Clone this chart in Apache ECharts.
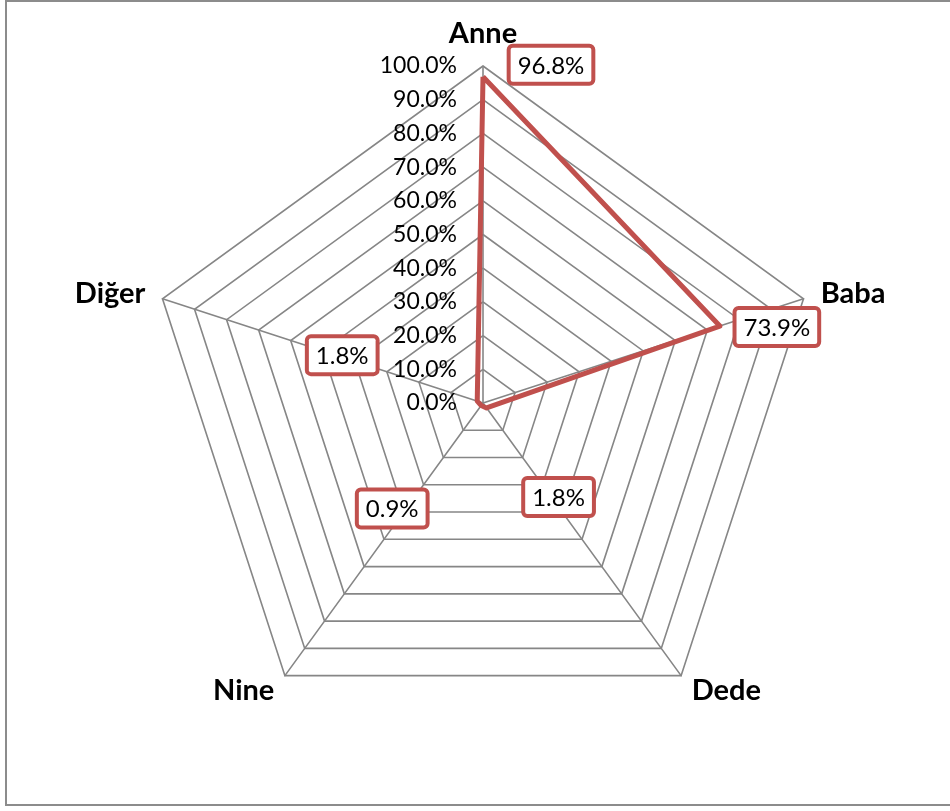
<!DOCTYPE html>
<html>
<head>
<meta charset="utf-8">
<script src="https://cdn.jsdelivr.net/npm/echarts@6/dist/echarts.min.js"></script>
<style>
  html, body { margin: 0; padding: 0; background: #fff; }
  #frame { position: absolute; left: 5px; top: 0; width: 960px; height: 806px; border: 2px solid #8c8c8c; box-sizing: border-box; }
  #chart { position: absolute; left: 0; top: 0; width: 950px; height: 811px; }
</style>
</head>
<body>
<div id="frame"></div>
<div id="chart"></div>
<script>
// Who the child lives with (share of respondents)
const categories = ['Anne', 'Baba', 'Dede', 'Nine', 'Diğer'];
const values = [96.8, 73.9, 1.8, 0.9, 1.8];
const tickLabels = ['0.0%', '10.0%', '20.0%', '30.0%', '40.0%', '50.0%', '60.0%', '70.0%', '80.0%', '90.0%', '100.0%'];
// label box offsets from each vertex, in category order
const labelOffsets = [[68, -12], [57, 1], [72, 89], [-89, 103], [-135, -46]];

const RED = '#C0504D';
const GRID = '#868686';
const FONT = 'Lato';

// radar axes run counter-clockwise; lay categories out clockwise from the top
const order = [0, 4, 3, 2, 1];
const radarValues = order.map(i => values[i]);

const indicator = order.map((ci, j) => {
  const ind = { name: categories[ci], min: 0, max: 100 };
  if (j === 0) {
    ind.axisLabel = {
      show: true,
      fontFamily: FONT,
      fontSize: 23,
      color: '#000',
      margin: 26,
      formatter: v => tickLabels[Math.round(v / 10)]
    };
  }
  return ind;
});

// One invisible polygon per vertex label so each box can sit at its own offset
const labelItems = categories.map((name, k) => {
  const dim = order.indexOf(k);
  return {
    value: radarValues,
    lineStyle: { opacity: 0 },
    itemStyle: { color: 'rgba(0,0,0,0)' },
    label: {
      show: true,
      position: 'inside',
      offset: labelOffsets[k],
      formatter: p => p.dimensionIndex === dim ? '{b|' + values[k].toFixed(1) + '%}' : '',
      rich: {
        b: {
          fontFamily: FONT,
          fontSize: 24,
          color: '#000',
          backgroundColor: '#fff',
          borderColor: RED,
          borderWidth: 4,
          borderRadius: 2,
          padding: [6, 7, 4, 7]
        }
      }
    }
  };
});

const chart = echarts.init(document.getElementById('chart'), null, { renderer: 'canvas' });
chart.setOption({
  animation: false,
  radar: {
    center: [483, 403],
    radius: 337,
    startAngle: 90,
    shape: 'polygon',
    splitNumber: 10,
    indicator: indicator,
    nameGap: 18,
    axisName: { color: '#000', fontFamily: FONT, fontSize: 29, fontWeight: 'bold' },
    axisLine: { show: true, lineStyle: { color: GRID, width: 1.6 } },
    axisTick: { show: false },
    axisLabel: { show: false },
    splitLine: { show: true, lineStyle: { color: GRID, width: 1.6 } },
    splitArea: { show: false }
  },
  series: [
    {
      type: 'radar',
      symbol: 'none',
      z: 3,
      lineStyle: { color: RED, width: 5, join: 'round' },
      data: [{ value: radarValues }]
    },
    {
      type: 'radar',
      symbol: 'circle',
      symbolSize: 1,
      z: 4,
      data: labelItems
    }
  ]
});
</script>
</body>
</html>
